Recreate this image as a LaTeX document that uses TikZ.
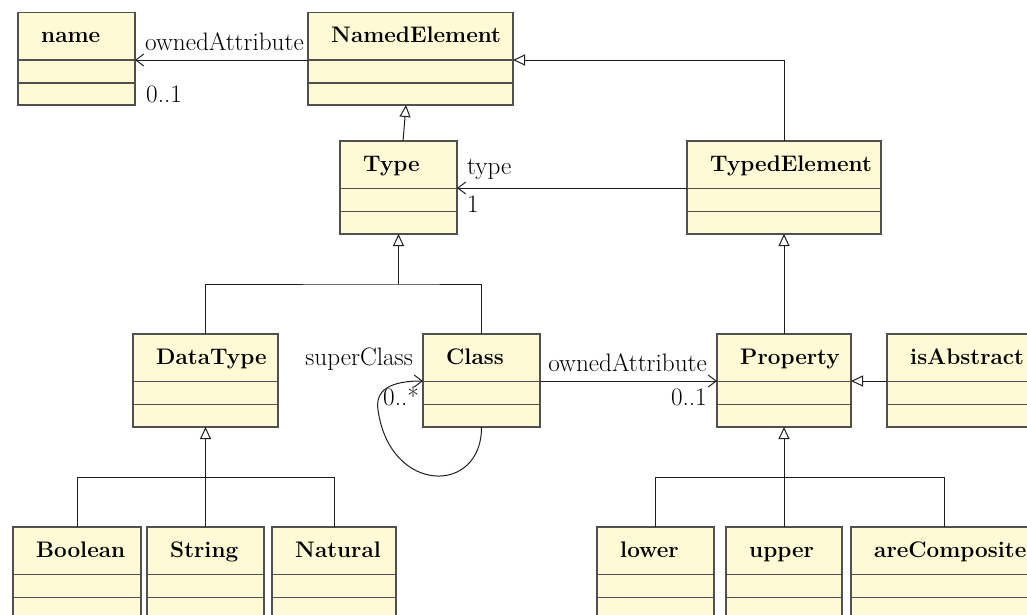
\documentclass[tikz,border=0pt]{standalone}
\usetikzlibrary{arrows.meta,calc}
\definecolor{boxfill}{RGB}{255,250,214}
\definecolor{boxline}{RGB}{80,80,80}
\definecolor{conline}{RGB}{30,30,30}
\tikzset{
  classbox/.style={draw=boxline, fill=boxfill, line width=1.4pt, rectangle, inner sep=0pt, outer sep=0pt},
  divline/.style={draw=boxline, line width=1.4pt},
  classtitle/.style={inner sep=0pt, font=\fontsize{22.5}{27}\selectfont\bfseries},
  lbl/.style={inner sep=0pt, font=\fontsize{25.2}{30}\selectfont},
  conn/.style={draw=conline, line width=1pt},
  assoc/.style={conn, -{Straight Barb[length=8pt,width=12pt,line width=1pt]}},
  gen/.style={conn, -{Triangle[open,length=12pt,width=11pt,line width=1pt]}},
}
\newcommand\umlclass[6]{%
  \node[classbox, anchor=north west, minimum width={(#4-#2)*1pt}, minimum height={(#5-#3)*1pt}] (#1) at (#2,#3) {};
  \draw[divline] ($(#1.north west)+(0,47.5)$) -- ($(#1.north east)+(0,47.5)$);
  \draw[divline] ($(#1.north west)+(0,70.5)$) -- ($(#1.north east)+(0,70.5)$);
  \node[classtitle, anchor=base west] (#1-title) at ($(#1.north west)+(23,30)$) {#6};
}
\begin{document}
\begin{tikzpicture}[x=1pt,y=-1pt]
\useasboundingbox (0,0) rectangle (1027,614);
\clip (0,0) rectangle (1027,614);
% classes
\umlclass{name}{18}{12.5}{135}{105}{name}
\umlclass{named}{308}{12.5}{513}{105}{NamedElement}
\umlclass{type}{340}{141}{457}{234}{Type}
\umlclass{typed}{687}{141}{881}{234}{TypedElement}
\umlclass{datatype}{133}{334}{278}{427}{DataType}
\umlclass{class}{423}{334}{540}{427}{Class}
\umlclass{property}{717}{334}{851}{427}{Property}
\umlclass{isabs}{887}{334}{1040}{427}{isAbstract}
\umlclass{boolean}{13}{527}{141}{640}{Boolean}
\umlclass{string}{147}{527}{264}{640}{String}
\umlclass{natural}{272}{527}{396}{640}{Natural}
\umlclass{lower}{597}{527}{714}{640}{lower}
\umlclass{upper}{726}{527}{842}{640}{upper}
\umlclass{arecomp}{851}{527}{1037}{640}{areComposite}
% associations
\draw[assoc] ($(named.north west)+(0,47.5)$) -- ($(name.north east)+(0,47.5)$);
\node[lbl, anchor=base west] (l-oa1) at (145,50) {ownedAttribute};
\node[lbl, anchor=base west] (l-m1) at (146,102) {0..1};
\draw[assoc] ($(typed.north west)+(0,47)$) -- ($(type.north east)+(0,47)$);
\node[lbl, anchor=base west] (l-type) at (467,174) {type};
\node[lbl, anchor=base west] (l-m2) at (467,212) {1};
\draw[assoc] ($(class.north east)+(0,47)$) -- ($(property.north west)+(0,47)$);
\node[lbl, anchor=base east] (l-oa2) at (707,371) {ownedAttribute};
\node[lbl, anchor=base east] (l-m3) at (707,405) {0..1};
\draw[assoc] (class.south) .. controls (482,495) and (390,495) .. (378,410)
  .. controls (374,385) and (400,381) .. ($(class.north west)+(0,47)$);
\node[lbl, anchor=base east] (l-sc) at (413,365) {superClass};
\node[lbl, anchor=base west] (l-m4) at (383,405) {0..*};
% generalizations
\draw[gen] ($(type.north)+(4.5,0)$) -- ($(named.south)+(-4.5,0)$);
\draw[gen] (typed.north) |- ($(named.north east)+(0,47.5)$);
\coordinate (j1) at ($(type.south)+(0,50)$);
\draw[conn] (datatype.north) |- (j1) -| (class.north);
\draw[gen] (j1) -- (type.south);
\draw[gen] (property.north) -- (typed.south);
\draw[gen] ($(isabs.north west)+(0,47)$) -- ($(property.north east)+(0,47)$);
\coordinate (j2) at ($(datatype.south)+(0,50)$);
\draw[conn] (boolean.north) |- (j2) -| (natural.north);
\draw[gen] (string.north) -- (datatype.south);
\coordinate (j3) at ($(property.south)+(0,50)$);
\draw[conn] (lower.north) |- (j3) -| (arecomp.north);
\draw[gen] (upper.north) -- (property.south);
\end{tikzpicture}
\end{document}
